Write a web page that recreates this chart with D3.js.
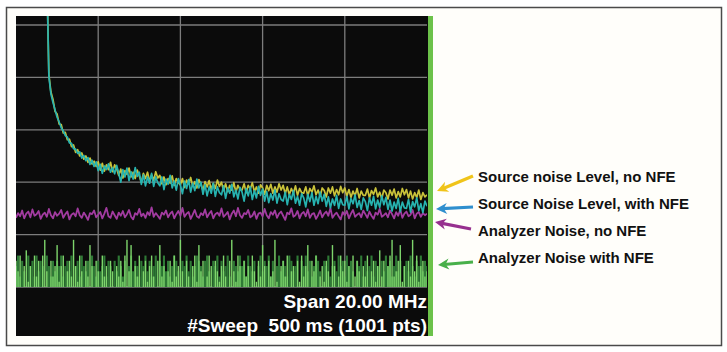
<!DOCTYPE html>
<html>
<head>
<meta charset="utf-8">
<script src="https://cdn.jsdelivr.net/npm/d3@7"></script>
<style>
  html, body { margin: 0; padding: 0; background: #ffffff; }
  svg { display: block; }
  text { font-family: "Liberation Sans", Arial, sans-serif; font-weight: bold; }
</style>
</head>
<body>
<div id="chart"></div>
<script>
// spectrum analyzer screen: 20 MHz span, 201 display points per trace
const spanMHz = 20;
const refTicks = [-90, -80, -70, -60, -50, -40];
const freqTicks = [4, 8, 12, 16];

// Source noise level, no NFE (dBm); null = off screen
const sourceNoNFE = [
  null, null, null, null, null, null, null, null, null, null,
  null, null, null, null, null, -30, -49.5, -52.8, -54.2, -56.5,
  -57.0, -58.9, -59.0, -60.6, -60.5, -61.9, -61.8, -63.2, -62.9, -64.3,
  -63.8, -65.0, -64.4, -65.6, -65.0, -66.2, -65.4, -66.5, -66.0, -67.0,
  -66.1, -67.7, -66.4, -67.9, -66.7, -67.6, -66.2, -68.0, -66.7, -67.5,
  -68.7, -67.5, -69.2, -67.8, -68.5, -67.3, -69.0, -68.1, -69.3, -67.7,
  -68.8, -70.0, -68.3, -69.3, -68.1, -69.8, -68.6, -69.6, -68.0, -69.2,
  -68.7, -70.3, -69.0, -70.5, -69.3, -70.2, -68.8, -70.6, -69.3, -70.1,
  -70.5, -69.3, -71.0, -69.6, -70.3, -69.1, -70.8, -69.9, -71.1, -69.5,
  -70.4, -71.6, -69.9, -70.9, -69.7, -71.4, -70.2, -71.2, -69.6, -70.8,
  -70.0, -71.6, -70.3, -71.8, -70.6, -71.5, -70.1, -71.9, -70.6, -71.4,
  -71.5, -70.3, -72.0, -70.6, -71.3, -70.1, -71.8, -70.9, -72.1, -70.5,
  -71.1, -72.3, -70.6, -71.6, -70.4, -72.1, -70.9, -71.9, -70.3, -71.5,
  -70.6, -72.2, -70.9, -72.4, -71.2, -72.1, -70.7, -72.5, -71.2, -72.0,
  -72.1, -70.9, -72.6, -71.2, -71.9, -70.7, -72.4, -71.5, -72.7, -71.1,
  -71.6, -72.8, -71.1, -72.1, -70.9, -72.6, -71.4, -72.4, -70.8, -72.0,
  -71.1, -72.7, -71.4, -72.9, -71.7, -72.6, -71.2, -73.0, -71.7, -72.5,
  -72.5, -71.3, -73.0, -71.6, -72.3, -71.1, -72.8, -71.9, -73.1, -71.5,
  -72.0, -73.2, -71.5, -72.5, -71.3, -73.0, -71.8, -72.8, -71.2, -72.4,
  -71.4, -73.0, -71.7, -73.2, -72.0, -72.9, -71.5, -73.3, -72.0, -72.8,
  -72.4
];

// Source noise level, with NFE (dBm)
const sourceWithNFE = [
  null, null, null, null, null, null, null, null, null, null,
  null, null, null, null, null, -30, -49.8, -53.2, -54.8, -56.2,
  -57.6, -58.5, -59.6, -60.2, -61.1, -61.4, -62.5, -62.6, -63.6, -63.7,
  -64.5, -64.2, -65.4, -64.9, -65.9, -65.3, -66.6, -65.8, -67.0, -66.1,
  -67.8, -66.6, -68.3, -66.9, -67.6, -66.5, -68.1, -67.2, -68.4, -66.8,
  -68.3, -70.0, -67.6, -69.0, -67.3, -69.7, -68.0, -69.4, -67.2, -68.9,
  -68.1, -70.4, -68.6, -70.7, -69.0, -70.2, -68.3, -70.8, -69.0, -70.1,
  -70.7, -69.0, -71.4, -69.4, -70.4, -68.7, -71.1, -69.8, -71.5, -69.3,
  -70.5, -72.2, -69.8, -71.2, -69.5, -71.9, -70.2, -71.6, -69.4, -71.1,
  -70.0, -72.3, -70.5, -72.6, -70.9, -72.1, -70.2, -72.7, -70.9, -72.0,
  -72.4, -70.7, -73.1, -71.1, -72.1, -70.4, -72.8, -71.5, -73.2, -71.0,
  -71.9, -73.6, -71.2, -72.6, -70.9, -73.3, -71.6, -73.0, -70.8, -72.5,
  -71.3, -73.6, -71.8, -73.9, -72.2, -73.4, -71.5, -74.0, -72.2, -73.3,
  -73.6, -71.9, -74.3, -72.3, -73.3, -71.6, -74.0, -72.7, -74.4, -72.2,
  -73.0, -74.7, -72.3, -73.7, -72.0, -74.4, -72.7, -74.1, -71.9, -73.6,
  -72.3, -74.6, -72.8, -74.9, -73.2, -74.4, -72.5, -75.0, -73.2, -74.3,
  -74.4, -72.7, -75.1, -73.1, -74.1, -72.4, -74.8, -73.5, -75.2, -73.0,
  -73.7, -75.4, -73.0, -74.4, -72.7, -75.1, -73.4, -74.8, -72.6, -74.3,
  -72.9, -75.2, -73.4, -75.5, -73.8, -75.0, -73.1, -75.6, -73.8, -74.9,
  -75.0, -73.3, -75.7, -73.7, -74.7, -73.0, -75.4, -74.1, -75.8, -73.6,
  -74.6
];

// Analyzer noise, no NFE (dBm)
const analyzerNoNFE = [
  -76.8, -75.9, -76.5, -75.4, -76.9, -76.0, -75.6, -76.7, -75.2, -76.4,
  -76.1, -75.5, -77.0, -76.2, -75.8, -76.6, -75.1, -76.3, -76.9, -75.7,
  -76.4, -76.0, -75.3, -76.8, -76.1, -75.6, -77.1, -76.2, -75.9, -76.5,
  -75.0, -76.3, -76.8, -75.8, -76.4, -77.2, -75.9, -76.1, -75.4, -76.7,
  -76.2, -75.7, -76.9, -76.0, -74.9, -76.5, -76.8, -75.6, -76.3, -77.0,
  -75.8, -76.4, -75.5, -76.7, -76.1, -75.3, -76.6, -77.1, -75.9, -76.2,
  -75.1, -76.5, -76.0, -76.8, -75.7, -76.3, -74.8, -76.6, -75.9, -76.4,
  -77.0, -75.8, -76.2, -75.4, -76.7, -76.0, -75.6, -76.9, -76.1, -75.5,
  -76.4, -74.9, -76.6, -76.0, -75.7, -77.0, -76.2, -75.3, -76.5, -76.8,
  -75.9, -76.3, -75.2, -76.7, -76.0, -75.5, -76.9, -76.1, -75.8, -76.4,
  -75.0, -76.6, -76.2, -75.7, -77.1, -76.0, -75.4, -76.5, -74.9, -76.3,
  -76.8, -75.9, -76.1, -75.3, -76.7, -76.4, -75.6, -77.0, -76.0, -75.8,
  -76.5, -75.1, -76.3, -76.9, -75.7, -76.2, -75.4, -76.8, -76.0, -75.6,
  -76.4, -77.2, -75.8, -76.1, -75.0, -76.6, -76.3, -75.5, -76.9, -76.0,
  -75.7, -76.5, -75.2, -76.8, -76.1, -75.9, -77.0, -76.3, -75.4, -76.7,
  -76.0, -75.6, -76.4, -74.9, -76.8, -76.2, -75.8, -76.5, -77.1, -75.7,
  -76.3, -75.5, -76.9, -76.0, -75.3, -76.6, -76.2, -75.9, -76.7, -75.4,
  -76.1, -76.8, -75.6, -76.4, -77.0, -75.8, -76.2, -75.1, -76.6, -76.3,
  -75.9, -76.7, -75.4, -76.1, -76.9, -75.7, -76.4, -75.2, -76.8, -76.0,
  -75.6, -76.5, -76.2, -75.3, -76.9, -76.0, -75.7, -76.6, -75.9, -76.3,
  -76.0
];

// Analyzer noise with NFE (dBm), drawn as bars; two display tones
const analyzerNFELight = [
  -85, -87, -84, -92, -86, -83, -89, -86, -92, -84,
  -88, -85, -92, -84, -81, -87, -90, -85, -88, -86,
  -82, -89, -86, -84, -92, -87, -85, -88, -81, -86,
  -89, -84, -87, -92, -85, -88, -82, -86, -90, -85,
  -87, -92, -84, -88, -86, -90, -85, -87, -92, -86,
  -88, -85, -89, -84, -81, -87, -82, -90, -86, -88,
  -84, -92, -87, -85, -89, -86, -84, -88, -90, -85,
  -82, -88, -86, -92, -87, -85, -89, -84, -88, -86,
  -81, -87, -90, -85, -88, -92, -86, -84, -89, -82,
  -87, -85, -92, -88, -84, -86, -90, -85, -87, -89,
  -86, -84, -88, -92, -85, -81, -87, -89, -84, -86,
  -90, -85, -88, -86, -92, -84, -87, -89, -85, -88,
  -82, -86, -90, -85, -88, -87, -81, -89, -92, -86,
  -85, -88, -84, -90, -87, -86, -92, -85, -89, -84,
  -88, -86, -82, -90, -85, -87, -84, -92, -88, -86,
  -89, -85, -87, -90, -82, -86, -92, -88, -84, -87,
  -85, -89, -86, -92, -84, -88, -85, -87, -90, -86,
  -88, -84, -92, -87, -85, -89, -86, -83, -88, -85,
  -90, -86, -84, -81, -88, -87, -85, -82, -89, -86,
  -92, -85, -88, -81, -87, -84, -89, -86, -85, -88,
  -87
];
const analyzerNFEDark = [
  -86, -84, -88, -85, -87, -92, -84, -86, -85, -88,
  -84, -87, -85, -86, -92, -84, -86, -88, -85, -87,
  -85, -86, -84, -88, -86, -85, -87, -84, -92, -86,
  -85, -88, -84, -86, -87, -85, -92, -84, -86, -88,
  -85, -87, -86, -84, -88, -85, -86, -92, -85, -87,
  -84, -86, -88, -85, -92, -86, -84, -87, -85, -86,
  -88, -85, -86, -84, -87, -85, -88, -86, -84, -92,
  -85, -86, -84, -87, -85, -88, -86, -84, -85, -87,
  -92, -85, -86, -84, -87, -85, -88, -86, -84, -85,
  -86, -88, -85, -84, -87, -92, -85, -86, -84, -88,
  -85, -87, -86, -84, -88, -92, -85, -86, -87, -84,
  -86, -85, -88, -84, -86, -87, -85, -92, -86, -84,
  -87, -85, -86, -84, -88, -85, -92, -86, -84, -87,
  -85, -86, -88, -84, -85, -87, -86, -84, -92, -85,
  -86, -84, -87, -85, -88, -86, -84, -85, -87, -92,
  -85, -86, -84, -88, -86, -85, -87, -84, -86, -85,
  -88, -84, -86, -85, -87, -92, -85, -86, -84, -88,
  -85, -87, -86, -84, -88, -85, -86, -92, -85, -87,
  -84, -86, -85, -88, -86, -84, -87, -85, -92, -86,
  -85, -87, -84, -86, -88, -85, -86, -84, -87, -85,
  -86
];

const legendLabels = [
  "Source noise Level, no NFE",
  "Source Noise Level, with NFE",
  "Analyzer Noise, no NFE",
  "Analyzer Noise with NFE",
];
const legendColors = ["#f0c419", "#2f8fce", "#97308f", "#48b04a"];
const statusLines = ["Span 20.00 MHz", "#Sweep  500 ms (1001 pts)"];

const W = 727, H = 352;
const screen = { left: 16, right: 427, top: 16, gridTop: 25, gridBottom: 287, bottom: 336 };

const svg = d3.select("#chart").append("svg").attr("width", W).attr("height", H);
const defs = svg.append("defs");

// outer frame
svg.append("rect")
  .attr("x", 6.5).attr("y", 7.5).attr("width", 715).attr("height", 338)
  .attr("fill", "#fffefa").attr("stroke", "#4a4a4a").attr("stroke-width", 1.5);

// analyzer screen
svg.append("rect")
  .attr("x", screen.left).attr("y", screen.top)
  .attr("width", screen.right - screen.left + 1).attr("height", screen.bottom - screen.top)
  .attr("fill", "#0b0b0b");
svg.append("rect")
  .attr("x", screen.right + 1).attr("y", screen.top)
  .attr("width", 5).attr("height", screen.bottom - screen.top)
  .attr("fill", "#6cc24a");

const n = sourceNoNFE.length;
var x = d3.scaleLinear().domain([0, spanMHz]).range([screen.left, screen.right]);
var y = d3.scaleLinear().domain([-90, -40]).range([screen.gridBottom, screen.gridTop]);
const fAt = (i) => (i * spanMHz) / (n - 1);

defs.append("clipPath").attr("id", "plot-clip")
  .append("rect")
  .attr("x", screen.left).attr("y", screen.top)
  .attr("width", screen.right - screen.left).attr("height", screen.gridBottom - screen.top);

// graticule
const grid = svg.append("g").attr("stroke", "#7d7d7d").attr("stroke-width", 1.3);
grid.selectAll(".hline").data(refTicks).join("line")
  .attr("x1", screen.left).attr("x2", screen.right)
  .attr("y1", (d) => y(d)).attr("y2", (d) => y(d));
grid.selectAll(".vline").data(freqTicks).join("line")
  .attr("x1", (d) => x(d)).attr("x2", (d) => x(d))
  .attr("y1", screen.top).attr("y2", screen.gridBottom);

const plot = svg.append("g").attr("clip-path", "url(#plot-clip)");

// analyzer noise with NFE: bars up from bottom graticule
plot.append("g").selectAll("rect").data(analyzerNFEDark).join("rect")
  .attr("x", (d, i) => x(fAt(i)) - 1.05).attr("width", 2.1)
  .attr("y", (d) => y(d)).attr("height", (d) => Math.max(0, y(-90) - y(d)))
  .attr("fill", "#2f7a36");
plot.append("g").selectAll("rect").data(analyzerNFELight).join("rect")
  .attr("x", (d, i) => x(fAt(i)) - 0.7).attr("width", 1.4)
  .attr("y", (d) => y(d)).attr("height", (d) => Math.max(0, y(-90) - y(d)))
  .attr("fill", "#7ed56c");

const line = d3.line()
  .defined((d) => d !== null)
  .x((d, i) => x(fAt(i)))
  .y((d) => y(d));

const traces = [
  { values: analyzerNoNFE, color: "#a23ba0", width: 1.8 },
  { values: sourceNoNFE, color: "#c9c23a", width: 1.7 },
  { values: sourceWithNFE, color: "#27b3b0", width: 1.7 },
];
plot.selectAll(".trace").data(traces).join("path")
  .attr("class", "trace")
  .attr("d", (d) => line(d.values))
  .attr("fill", "none")
  .attr("stroke", (d) => d.color)
  .attr("stroke-width", (d) => d.width)
  .attr("stroke-linejoin", "round");

// status text
svg.selectAll(".status").data(statusLines).join("text")
  .attr("class", "status")
  .attr("x", screen.right)
  .attr("y", (d, i) => 308 + i * 24)
  .attr("text-anchor", "end")
  .attr("fill", "#ffffff")
  .attr("font-size", 19)
  .style("white-space", "pre")
  .text((d) => d);

// legend arrows: shaft plus a filled barbed head at the tip
const arrowTail = [[473, 176], [473, 207], [471, 229], [473, 262]];
const arrowTip = [[437, 191], [436, 209], [435, 222], [438, 265]];
const arrows = svg.selectAll(".arrow").data(legendLabels).join("g").attr("class", "arrow");
arrows.append("path")
  .attr("d", function (d, i) {
    const [tx, ty] = arrowTip[i], [sx, sy] = arrowTail[i];
    const len = Math.hypot(tx - sx, ty - sy);
    const ux = (tx - sx) / len, uy = (ty - sy) / len;
    const bx = tx - ux * 6, by = ty - uy * 6;
    return d3.line()([[sx, sy], [bx, by]]);
  })
  .attr("stroke", (d, i) => legendColors[i])
  .attr("stroke-width", 3.2)
  .attr("fill", "none");
arrows.append("path")
  .attr("d", function (d, i) {
    const [tx, ty] = arrowTip[i], [sx, sy] = arrowTail[i];
    const len = Math.hypot(tx - sx, ty - sy);
    const ux = (tx - sx) / len, uy = (ty - sy) / len;
    const nx = -uy, ny = ux;
    const L = 11, w = 5.5;
    return "M" + tx + "," + ty +
      "L" + (tx - ux * L + nx * w) + "," + (ty - uy * L + ny * w) +
      "L" + (tx - ux * L * 0.7) + "," + (ty - uy * L * 0.7) +
      "L" + (tx - ux * L - nx * w) + "," + (ty - uy * L - ny * w) + "Z";
  })
  .attr("fill", (d, i) => legendColors[i]);

svg.selectAll(".legend").data(legendLabels).join("text")
  .attr("class", "legend")
  .attr("x", 478)
  .attr("y", (d, i) => 182 + i * 27)
  .attr("fill", "#111111")
  .attr("font-size", 15)
  .text((d) => d);
</script>
</body>
</html>
